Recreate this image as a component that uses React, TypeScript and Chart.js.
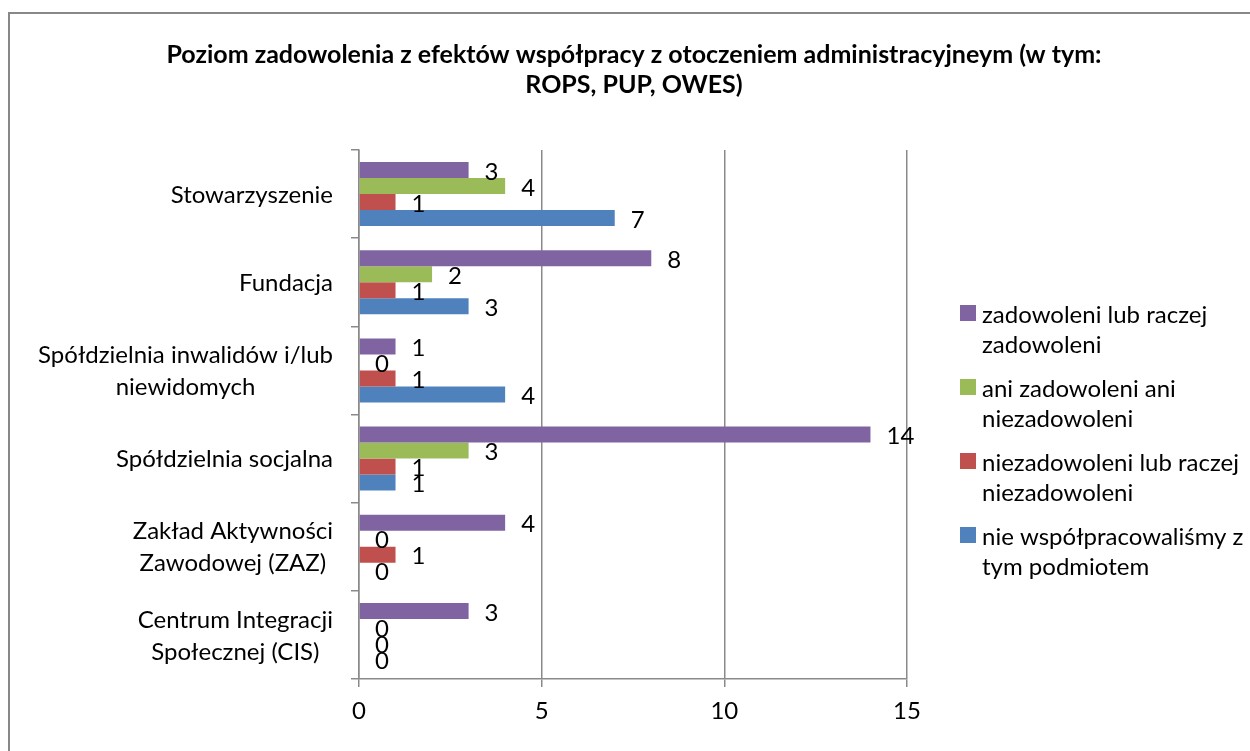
import React, { useEffect, useRef } from 'react';
import { Chart, registerables } from 'chart.js';

Chart.register(...registerables);

// ---- data ----
const titleLines = [
  'Poziom zadowolenia z efektów współpracy z otoczeniem administracyjneym (w tym:',
  'ROPS, PUP, OWES)',
];
const categories: string[][] = [
  ['Stowarzyszenie'],
  ['Fundacja'],
  ['Spółdzielnia inwalidów i/lub', 'niewidomych'],
  ['Spółdzielnia socjalna'],
  ['Zakład Aktywności', 'Zawodowej (ZAZ)'],
  ['Centrum Integracji', 'Społecznej (CIS)'],
];
const seriesNames: string[][] = [
  ['zadowoleni lub raczej', 'zadowoleni'],
  ['ani zadowoleni ani', 'niezadowoleni'],
  ['niezadowoleni lub raczej', 'niezadowoleni'],
  ['nie współpracowaliśmy z', 'tym podmiotem'],
];
const zadowoleni = [3, 8, 1, 14, 4, 3];
const aniAni = [4, 2, 0, 3, 0, 0];
const niezadowoleni = [1, 1, 1, 1, 1, 0];
const nieWspolpracowalismy = [7, 3, 4, 1, 0, 0];
const seriesColors = ['#8064A2', '#9BBB59', '#C0504D', '#4F81BD'];
const xMin = 0;
const xMax = 15;
const xStep = 5;

const FONT = 'Lato, "Open Sans", "Noto Sans", sans-serif';
const LABEL_SIZE = 24;
const TITLE_SIZE = 25;
const AXIS_COLOR = '#8a8a8a';

const decorPlugin = {
  id: 'excelDecor',
  afterDraw(chart: any) {
    const ctx = chart.ctx as CanvasRenderingContext2D;
    const area = chart.chartArea;
    const yScale = chart.scales.y;
    ctx.save();
    ctx.fillStyle = '#000';

    // title
    ctx.font = `bold ${TITLE_SIZE}px ${FONT}`;
    ctx.textAlign = 'center';
    ctx.textBaseline = 'middle';
    titleLines.forEach((t, i) => ctx.fillText(t, 634, 55 + i * 30));

    // category labels (centered lines, block right-aligned to axis)
    ctx.font = `${LABEL_SIZE}px ${FONT}`;
    const labels = chart.data.labels as string[][];
    labels.forEach((lines, i) => {
      const yc = yScale.getPixelForValue(i);
      const widest = Math.max(...lines.map((l) => ctx.measureText(l).width));
      const xc = area.left - 26 - widest / 2;
      lines.forEach((l, j) => {
        ctx.fillText(l, xc, yc + (j - (lines.length - 1) / 2) * 32 + 1);
      });
    });

    // data labels (outside end)
    ctx.textAlign = 'left';
    chart.data.datasets.forEach((ds: any, di: number) => {
      const meta = chart.getDatasetMeta(di);
      meta.data.forEach((bar: any, i: number) => {
        ctx.fillText(String(ds.data[i]), bar.x + 16, bar.y + 2);
      });
    });

    // legend
    chart.data.datasets.forEach((ds: any, di: number) => {
      const y0 = area.top + 165 + di * 74;
      ctx.fillStyle = ds.backgroundColor;
      ctx.fillRect(area.right + 53, y0 - 10, 16, 16);
      ctx.fillStyle = '#000';
      seriesNames[di].forEach((l, j) => ctx.fillText(l, area.right + 75, y0 + j * 30));
    });
    ctx.restore();
  },
};

export default function App() {
  const ref = useRef<HTMLCanvasElement | null>(null);

  useEffect(() => {
    if (!ref.current) return;
    Chart.defaults.font.family = FONT;
    const seriesData = [zadowoleni, aniAni, niezadowoleni, nieWspolpracowalismy];
    const chart = new Chart(ref.current, {
      type: 'bar',
      data: {
        labels: categories,
        datasets: seriesData.map((d, i) => ({
          label: seriesNames[i].join(' '),
          data: d,
          backgroundColor: seriesColors[i],
          borderWidth: 0,
          barPercentage: 1,
          categoryPercentage: 0.726,
        })),
      },
      options: {
        indexAxis: 'y',
        responsive: false,
        animation: false,
        devicePixelRatio: 1,
        layout: { padding: { left: 0, top: 150, right: 343, bottom: 0 } },
        plugins: {
          legend: { display: false },
          title: { display: false },
          tooltip: { enabled: false },
        },
        scales: {
          x: {
            min: xMin,
            max: xMax,
            ticks: { stepSize: xStep, color: '#000', font: { size: LABEL_SIZE, family: FONT }, padding: 10 },
            grid: { color: AXIS_COLOR, lineWidth: 1.5, tickLength: 8, drawTicks: true },
            border: { color: AXIS_COLOR, width: 1.5 },
            afterFit: (s: any) => {
              s.height = 72;
            },
          },
          y: {
            ticks: { display: false },
            grid: { offset: true, drawOnChartArea: false, drawTicks: true, tickLength: 8, color: AXIS_COLOR, lineWidth: 1.5 },
            border: { color: AXIS_COLOR, width: 1.5 },
            afterFit: (s: any) => {
              s.width = 359;
            },
          },
        },
      },
      plugins: [decorPlugin],
    });
    return () => chart.destroy();
  }, []);

  return (
    <div style={{ position: 'fixed', left: 0, top: 0, width: 1250, height: 751, overflow: 'hidden', background: '#fff' }}>
      <div
        style={{
          position: 'absolute',
          left: 8,
          top: 12,
          width: 1300,
          height: 800,
          borderTop: '2px solid #888',
          borderLeft: '2px solid #888',
          boxSizing: 'border-box',
        }}
      />
      <canvas ref={ref} width={1250} height={751} style={{ position: 'absolute', left: 0, top: 0 }} />
    </div>
  );
}
